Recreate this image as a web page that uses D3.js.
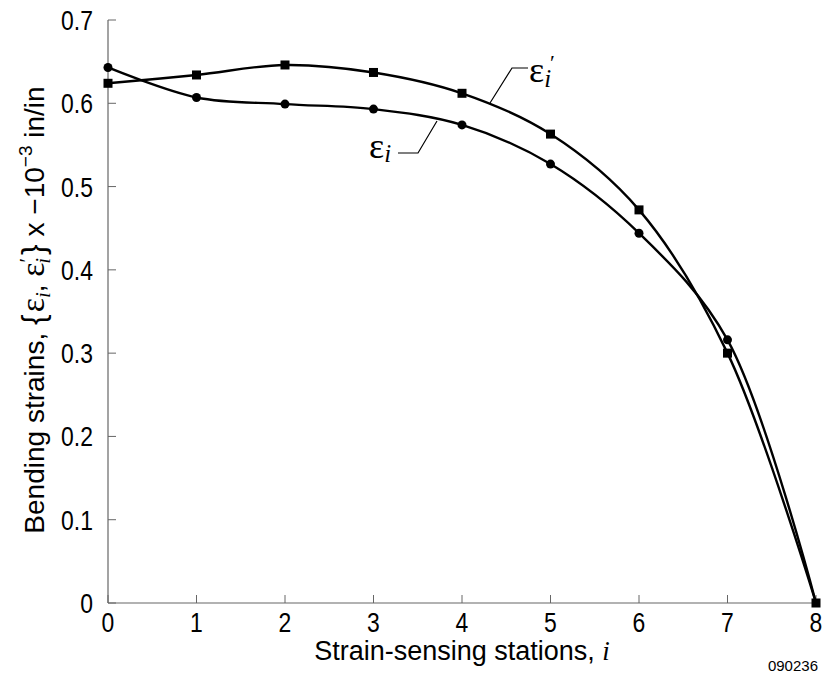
<!DOCTYPE html>
<html>
<head>
<meta charset="utf-8">
<script src="https://cdn.jsdelivr.net/npm/d3@7"></script>
<style>
  body { margin: 0; background: #fff; }
  svg text { font-family: "Liberation Sans", Arial, sans-serif; }
  .greek { font-family: "Liberation Serif", "Times New Roman", serif; }
</style>
</head>
<body>
<div id="chart"></div>
<script>
// Data
const stations = [0, 1, 2, 3, 4, 5, 6, 7, 8];
const strainE = [0.643, 0.607, 0.599, 0.593, 0.574, 0.527, 0.444, 0.316, 0.0];      // eps_i (circles)
const strainEPrime = [0.624, 0.634, 0.646, 0.637, 0.612, 0.563, 0.472, 0.300, 0.0]; // eps'_i (squares)
const xTicks = [0, 1, 2, 3, 4, 5, 6, 7, 8];
const yTicks = [0, 0.1, 0.2, 0.3, 0.4, 0.5, 0.6, 0.7];

const width = 827, height = 678;
const svg = d3.select("#chart").append("svg")
    .attr("width", width)
    .attr("height", height);

// Scales
const x = d3.scaleLinear().domain([0, 8]).range([108, 816]);
const y = d3.scaleLinear().domain([0, 0.7]).range([603, 20]);

const axisColor = "#666";
const tickFont = "27px";

// Axis lines
svg.append("line")
    .attr("x1", x(0)).attr("x2", x(0))
    .attr("y1", y(0)).attr("y2", y(0.7))
    .attr("stroke", axisColor).attr("stroke-width", 1.2);
svg.append("line")
    .attr("x1", x(0)).attr("x2", x(8))
    .attr("y1", y(0)).attr("y2", y(0))
    .attr("stroke", axisColor).attr("stroke-width", 1.2);

// y ticks (pointing inward), labels slightly condensed
const yAxis = svg.append("g");
yAxis.selectAll("line").data(yTicks).enter().append("line")
    .attr("x1", x(0)).attr("x2", x(0) + 8)
    .attr("y1", d => y(d)).attr("y2", d => y(d))
    .attr("stroke", axisColor).attr("stroke-width", 1);
yAxis.selectAll("text").data(yTicks).enter().append("text")
    .attr("transform", d => `translate(93,${y(d) + 10}) scale(0.85,1)`)
    .attr("text-anchor", "end")
    .style("font-size", tickFont)
    .text(d => d === 0 ? "0" : d3.format(".1f")(d));

// x ticks
const xAxis = svg.append("g");
xAxis.selectAll("line").data(xTicks).enter().append("line")
    .attr("x1", d => x(d)).attr("x2", d => x(d))
    .attr("y1", y(0)).attr("y2", y(0) - 8)
    .attr("stroke", axisColor).attr("stroke-width", 1);
xAxis.selectAll("text").data(xTicks).enter().append("text")
    .attr("transform", d => `translate(${x(d)},632) scale(0.85,1)`)
    .attr("text-anchor", "middle")
    .style("font-size", tickFont)
    .text(d => d);

// Axis titles
const xt = svg.append("text")
    .attr("x", 462).attr("y", 660)
    .attr("text-anchor", "middle")
    .style("font-size", "27px");
xt.append("tspan").text("Strain-sensing stations, ");
xt.append("tspan").attr("class", "greek").style("font-style", "italic").text("i");

const yt = svg.append("text")
    .attr("transform", "translate(44,310) rotate(-90)")
    .attr("text-anchor", "middle")
    .style("font-size", "28px");
yt.append("tspan").text("Bending strains, ");
yt.append("tspan").style("font-size", "32px").text("{");
yt.append("tspan").attr("class", "greek").style("font-size", "34px").attr("dx", 2).text("ε");
yt.append("tspan").attr("class", "greek").style("font-style", "italic").style("font-size", "21px").attr("dy", 6).text("i");
yt.append("tspan").attr("dy", -6).text(",  ");
yt.append("tspan").attr("class", "greek").style("font-size", "34px").text("ε");
yt.append("tspan").attr("class", "greek").style("font-size", "21px").attr("dy", -10).text("′");
yt.append("tspan").attr("class", "greek").style("font-style", "italic").style("font-size", "21px").attr("dx", -6).attr("dy", 16).text("i");
yt.append("tspan").style("font-size", "32px").attr("dx", 3).attr("dy", -6).text("}");
yt.append("tspan").text(" x −10");
yt.append("tspan").style("font-size", "19px").attr("dy", -12).text("−3");
yt.append("tspan").attr("dy", 12).text(" in/in");

svg.append("text")
    .attr("x", 818).attr("y", 671)
    .attr("text-anchor", "end")
    .style("font-size", "15px")
    .text("090236");

// Curves
const line = d3.line()
    .x((d, i) => x(stations[i]))
    .y(d => y(d))
    .curve(d3.curveCatmullRom.alpha(0.5));

svg.append("path")
    .datum(strainE)
    .attr("d", line)
    .attr("fill", "none")
    .attr("stroke", "#000")
    .attr("stroke-width", 2.4);

svg.append("path")
    .datum(strainEPrime)
    .attr("d", line)
    .attr("fill", "none")
    .attr("stroke", "#000")
    .attr("stroke-width", 2.4);

// Markers
svg.append("g").selectAll("circle")
    .data(strainE.slice(0, 8)).enter().append("circle")
    .attr("cx", (d, i) => x(stations[i]))
    .attr("cy", d => y(d))
    .attr("r", 4.5)
    .attr("fill", "#000");

svg.append("g").selectAll("rect")
    .data(strainEPrime).enter().append("rect")
    .attr("x", (d, i) => x(stations[i]) - 4.5)
    .attr("y", d => y(d) - 4.5)
    .attr("width", 9).attr("height", 9)
    .attr("fill", "#000");

// Annotation: eps_i
svg.append("polyline")
    .attr("points", "398,153 418,153 437,121")
    .attr("fill", "none").attr("stroke", "#000").attr("stroke-width", 1.2);
const l1 = svg.append("text").attr("x", 369).attr("y", 158).attr("class", "greek");
l1.append("tspan").style("font-size", "36px").text("ε");
l1.append("tspan").style("font-size", "25px").style("font-style", "italic").attr("dy", 4).text("i");

// Annotation: eps'_i (subscript then prime, kept tight)
svg.append("polyline")
    .attr("points", "490,103 512,68 528,68")
    .attr("fill", "none").attr("stroke", "#000").attr("stroke-width", 1.2);
const l2 = svg.append("text").attr("x", 529).attr("y", 82).attr("class", "greek");
l2.append("tspan").style("font-size", "36px").text("ε");
l2.append("tspan").style("font-size", "25px").style("font-style", "italic").attr("dy", 5).text("i");
l2.append("tspan").style("font-size", "22px").attr("dx", -1).attr("dy", -17).text("′");
</script>
</body>
</html>
